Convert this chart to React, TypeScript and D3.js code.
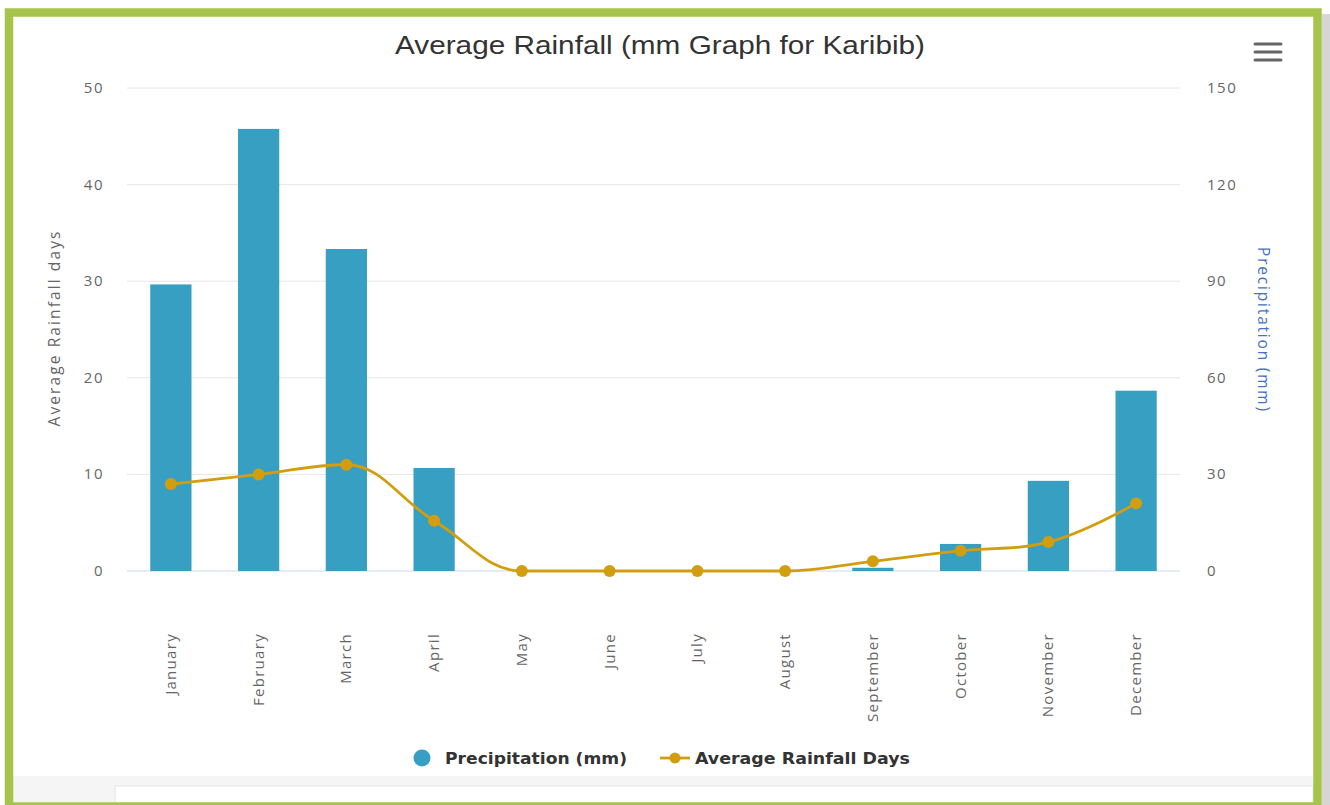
import React from "react";
import * as d3 from "d3";

const months = ["January","February","March","April","May","June","July","August","September","October","November","December"];
const precipitation = [89, 137.3, 100, 32, 0, 0, 0, 0, 1, 8.4, 28, 56];
const rainfallDays = [9.0, 10.0, 11.0, 5.2, 0, 0, 0, 0, 1.0, 2.1, 3.0, 7.0];
const leftTicks = [0, 10, 20, 30, 40, 50];
const rightTicks = [0, 30, 60, 90, 120, 150];

const W = 1330, H = 805;
const plot = { left: 127, right: 1180, top: 88, bottom: 571 };
const BAR = "#379fc1";
const LINE = "#d29e0f";
const GREEN = "#a6c34b";

function splinePath(pts: [number, number][]): string {
  const p = d3.path();
  const smoothing = 1.5, denom = smoothing + 1;
  const rc: ({ x: number; y: number } | undefined)[] = pts.map(() => undefined);
  pts.forEach(([px, py], i) => {
    if (i === 0) { p.moveTo(px, py); return; }
    const last = pts[i - 1], next = pts[i + 1];
    let lcx: number | undefined, lcy: number | undefined;
    if (last && next) {
      const [lx, ly] = last, [nx, ny] = next;
      lcx = (smoothing * px + lx) / denom;
      lcy = (smoothing * py + ly) / denom;
      const rcx = (smoothing * px + nx) / denom;
      let rcy = (smoothing * py + ny) / denom;
      let corr = 0;
      if (rcx !== lcx) corr = ((rcy - lcy) * (rcx - px)) / (rcx - lcx) + py - rcy;
      lcy += corr; rcy += corr;
      if (lcy > ly && lcy > py) { lcy = Math.max(ly, py); rcy = 2 * py - lcy; }
      else if (lcy < ly && lcy < py) { lcy = Math.min(ly, py); rcy = 2 * py - lcy; }
      if (rcy > ny && rcy > py) { rcy = Math.max(ny, py); lcy = 2 * py - rcy; }
      else if (rcy < ny && rcy < py) { rcy = Math.min(ny, py); lcy = 2 * py - rcy; }
      rc[i] = { x: rcx, y: rcy };
    }
    const prc = rc[i - 1];
    p.bezierCurveTo(prc ? prc.x : last[0], prc ? prc.y : last[1], lcx ?? px, lcy ?? py, px, py);
  });
  return p.toString();
}

export default function App() {
  const x = d3.scaleBand<string>().domain(months).range([plot.left, plot.right]).padding(0);
  const yL = d3.scaleLinear().domain([0, 50]).range([plot.bottom, plot.top]);
  const yR = d3.scaleLinear().domain([0, 150]).range([plot.bottom, plot.top]);
  const bw = x.bandwidth() * 0.47;
  const cx = (m: string) => (x(m) as number) + x.bandwidth() / 2;
  const pts: [number, number][] = months.map((m, i) => [cx(m), yL(rainfallDays[i])]);
  const tickFont = "'Open Sans', 'DejaVu Sans', sans-serif";
  const legendFont = "'DejaVu Sans', Verdana, sans-serif";

  return (
    <svg width={W} height={H} style={{ position: "absolute", left: 0, top: 0 }}>
      <rect x={0} y={0} width={W} height={H} fill="#ffffff" />
      <rect x={1322} y={14} width={8} height={H} fill="#d6d6d6" />
      {/* bottom strip */}
      <rect x={13} y={776} width={1300} height={26} fill="#f5f5f5" />
      <rect x={115} y={786} width={1198} height={20} fill="#ffffff" stroke="#e4e4e4" />
      {/* frame */}
      <rect x={9} y={12.5} width={1308.5} height={794} fill="none" stroke={GREEN} strokeWidth={8.5} />

      <text x={395} y={54} textLength={530} lengthAdjust="spacingAndGlyphs" fontFamily="'Liberation Sans', Arial, sans-serif" fontSize={26} fill="#333333">
        Average Rainfall (mm Graph for Karibib)
      </text>

      {/* menu icon */}
      {[44, 52, 60].map((yy) => (
        <line key={yy} x1={1255} x2={1281} y1={yy} y2={yy} stroke="#666666" strokeWidth={3} strokeLinecap="round" />
      ))}

      {/* grid */}
      {leftTicks.map((t) => (
        <line key={t} x1={plot.left} x2={plot.right} y1={yL(t)} y2={yL(t)} stroke={t === 0 ? "#ccd6eb" : "#e6e6e6"} strokeWidth={1} />
      ))}

      {/* left ticks */}
      {leftTicks.map((t) => (
        <text key={t} x={104} y={yL(t) + 5} textAnchor="end" fontFamily={tickFont} fontSize={15} letterSpacing={1.5} fill="#666666">{t}</text>
      ))}
      {rightTicks.map((t) => (
        <text key={t} x={1207} y={yR(t) + 5} textAnchor="start" fontFamily={tickFont} fontSize={15} letterSpacing={1.5} fill="#666666">{t}</text>
      ))}

      <text transform={`translate(60,328) rotate(-90)`} textAnchor="middle" fontFamily={tickFont} fontSize={15.5} letterSpacing={2.1} fill="#666666">
        Average Rainfall days
      </text>
      <text transform={`translate(1258,330) rotate(90)`} textAnchor="middle" fontFamily={tickFont} fontSize={15.5} letterSpacing={1.8} fill="#4572c4">
        Precipitation (mm)
      </text>

      {/* bars */}
      {months.map((m, i) => (
        <rect key={m} x={cx(m) - bw / 2} y={yR(precipitation[i])} width={bw} height={plot.bottom - yR(precipitation[i])} fill={BAR} />
      ))}

      {/* line */}
      <path d={splinePath(pts)} fill="none" stroke={LINE} strokeWidth={2.8} />
      {pts.map(([px, py], i) => (
        <circle key={i} cx={px} cy={py} r={6} fill={LINE} />
      ))}

      {/* month labels */}
      {months.map((m) => (
        <text key={m} transform={`translate(${cx(m) + 5},633) rotate(-90)`} textAnchor="end" fontFamily={tickFont} fontSize={15} letterSpacing={1.3} fill="#666666">
          {m}
        </text>
      ))}

      {/* legend */}
      <circle cx={422} cy={758} r={8.5} fill={BAR} />
      <text x={445} y={764} textLength={182} lengthAdjust="spacingAndGlyphs" fontFamily={legendFont} fontWeight="bold" fontSize={15.5} fill="#333333">Precipitation (mm)</text>
      <line x1={660} x2={690} y1={758} y2={758} stroke={LINE} strokeWidth={2.8} />
      <circle cx={675} cy={758} r={5.5} fill={LINE} />
      <text x={695} y={764} textLength={215} lengthAdjust="spacingAndGlyphs" fontFamily={legendFont} fontWeight="bold" fontSize={15.5} fill="#333333">Average Rainfall Days</text>
    </svg>
  );
}
